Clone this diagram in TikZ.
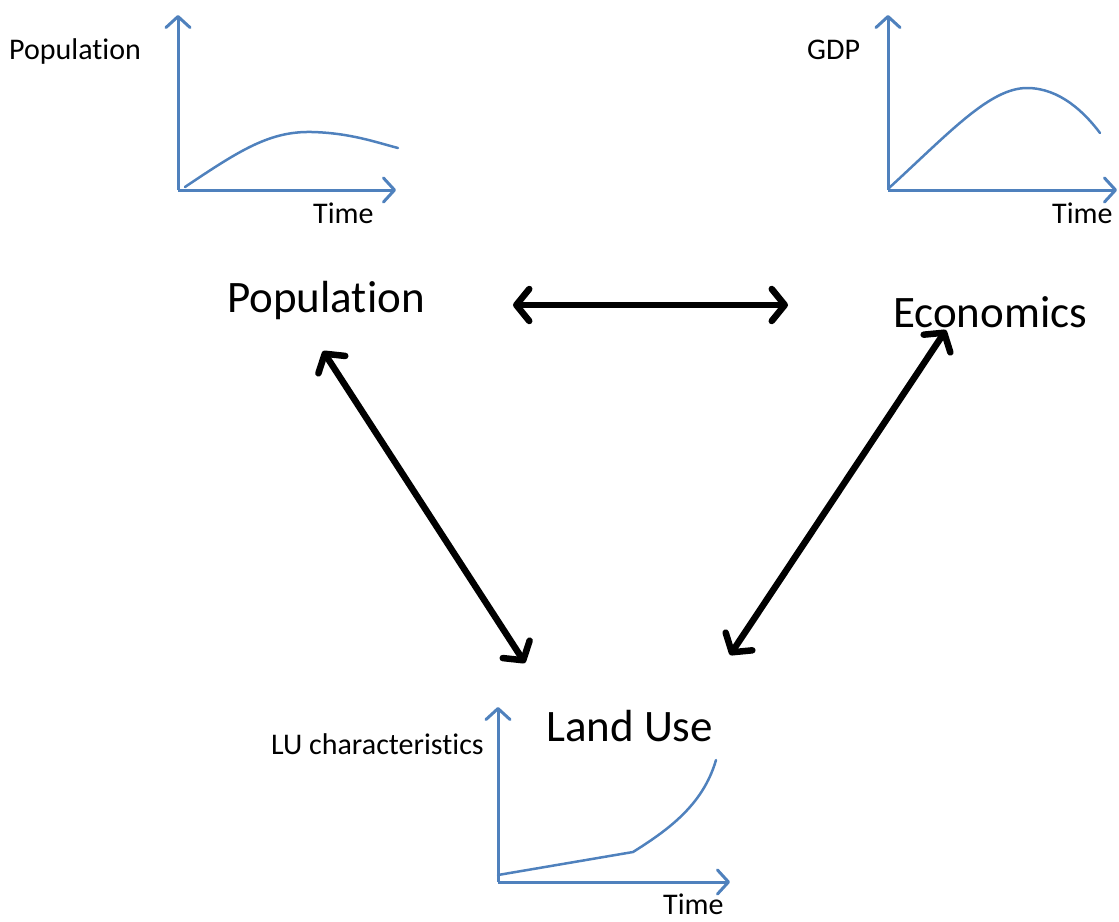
\documentclass[tikz,border=0pt]{standalone}
\usepackage{fontspec}
\setmainfont{Carlito}[Ligatures=NoCommon]
\usetikzlibrary{arrows.meta}
\definecolor{axisblue}{RGB}{79,129,189}
\begin{document}
\begin{tikzpicture}[x=1pt,y=-1pt,
  axisline/.style={draw=axisblue, line width=3pt, -{Straight Barb[length=11pt,width=24pt,round]}},
  curveline/.style={draw=axisblue, line width=2.5pt, line cap=round, line join=round},
  bigarrow/.style={line width=6.5pt, line cap=round,
    {Straight Barb[length=13pt,width=32pt,round]}-{Straight Barb[length=13pt,width=32pt,round]}},
  smalltxt/.style={inner sep=0pt, anchor=base west, font=\fontsize{30}{36}\selectfont},
  bigtxt/.style={inner sep=0pt, anchor=base west, font=\fontsize{45}{54}\selectfont}]
\useasboundingbox (0,0) rectangle (1119,921);

% ---- top-left chart: Population
\coordinate (o1) at (178,190);
\coordinate (y1) at (178,15);
\coordinate (x1) at (396,190);
\draw[axisline] (o1) -- (y1);
\draw[axisline] (o1) -- (x1);
\draw[curveline] (185,187) .. controls (240,150) and (270,131) .. (312,132)
  .. controls (350,133) and (375,142) .. (398,148);
\node[smalltxt] (lblpop) at (9,59) {Population};
\node[smalltxt] (time1) at (313,223) {Time};

% ---- top-right chart: GDP
\coordinate (o2) at (888,190);
\coordinate (y2) at (888,15);
\coordinate (x2) at (1117,190);
\draw[axisline] (o2) -- (y2);
\draw[axisline] (o2) -- (x2);
\draw[curveline] (889,188) .. controls (950,132) and (990,88) .. (1027,88)
  .. controls (1060,88) and (1085,113) .. (1100,133);
\node[smalltxt] (lblgdp) at (807,59) {GDP};
\node[smalltxt] (time2) at (1052,223) {Time};

% ---- bottom chart: Land Use
\coordinate (o3) at (498,882);
\coordinate (y3) at (498,707);
\coordinate (x3) at (730,882);
\draw[axisline] (o3) -- (y3);
\draw[axisline] (o3) -- (x3);
\draw[curveline] (498,875) -- (633,852) .. controls (668,830) and (703,805) .. (716,760);
\node[smalltxt] (lblLU) at (271,754) {LU characteristics};
\node[smalltxt] (time3) at (663,914) {Time};

% ---- main labels
\node[bigtxt] (pop) at (227,312) {Population};
\node[bigtxt] (econ) at (893,327) {Economics};
\node[bigtxt] (lu) at (546,741) {Land Use};

% ---- connectors
\coordinate (popE) at (513,305);
\coordinate (econW) at (788,305);
\coordinate (popS) at (323,351);
\coordinate (luNW) at (525,663);
\coordinate (econS) at (946,330);
\coordinate (luNE) at (730,655);
\draw[bigarrow] (popE) -- (econW);
\draw[bigarrow] (popS) -- (luNW);
\draw[bigarrow] (econS) -- (luNE);
\end{tikzpicture}
\end{document}
